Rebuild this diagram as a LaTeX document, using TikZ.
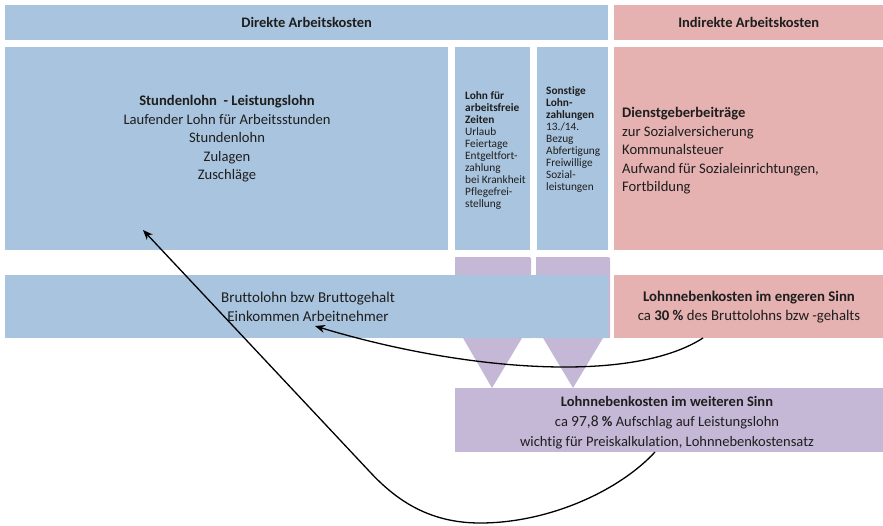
\documentclass[tikz,border=0pt]{standalone}
\usepackage{fontspec}
\setmainfont{Carlito}[Ligatures=NoCommon]
\usetikzlibrary{arrows.meta}
\definecolor{cblue}{RGB}{169,196,222}
\definecolor{cpink}{RGB}{229,177,177}
\definecolor{cpurple}{RGB}{196,184,214}
\definecolor{ctext}{RGB}{30,30,30}
\tikzset{
  box/.style={rectangle, inner sep=0pt, anchor=north west},
  bluebox/.style={box, fill=cblue},
  pinkbox/.style={box, fill=cpink},
  purplebox/.style={box, fill=cpurple},
  txt/.style={inner sep=0pt, text=ctext, align=center},
  main/.style={txt, font=\fontsize{14.6}{18.5}\selectfont},
  colsmall/.style={txt, align=left, anchor=west, font=\fontsize{11.3}{12}\selectfont},
  head/.style={txt, font=\bfseries\fontsize{14.5}{16}\selectfont},
  arr/.style={-{Stealth[length=10pt,width=8pt]}, line width=1.3pt, black}
}
\begin{document}
\begin{tikzpicture}[x=1pt,y=-1pt]
\useasboundingbox (0,0) rectangle (883,525);
% headers
\node[bluebox, minimum width=603pt, minimum height=35pt] (hd) at (5,5) {};
\node[pinkbox, minimum width=269pt, minimum height=35pt] (hi) at (614,5) {};
\node[head] (hdt) at (hd.center) {Direkte Arbeitskosten};
\node[head] (hit) at (hi.center) {Indirekte Arbeitskosten};
% upper boxes
\node[bluebox, minimum width=443pt, minimum height=203pt] (big) at (5,47) {};
\node[bluebox, minimum width=75pt, minimum height=203pt] (c1) at (455,47) {};
\node[bluebox, minimum width=71pt, minimum height=203pt] (c2) at (537,47) {};
\node[pinkbox, minimum width=269pt, minimum height=203pt] (dg) at (614,47) {};
\node[main] (bigt) at (227,139) {\textbf{Stundenlohn\ \ - Leistungslohn}\\Laufender Lohn für Arbeitsstunden\\Stundenlohn\\Zulagen\\Zuschläge};
\node[colsmall] (c1t) at (465,151) {\textbf{Lohn für}\\\textbf{arbeitsfreie}\\\textbf{Zeiten}\\Urlaub\\Feiertage\\Entgeltfort-\\zahlung\\bei Krankheit\\Pflegefrei-\\stellung};
\node[colsmall] (c2t) at (546,140) {\textbf{Sonstige}\\\textbf{Lohn-}\\\textbf{zahlungen}\\13./14.\\Bezug\\Abfertigung\\Freiwillige\\Sozial-\\leistungen};
\node[main, align=left, anchor=west] (dgt) at (622,151) {\textbf{Dienstgeberbeiträge}\\zur Sozialversicherung\\Kommunalsteuer\\Aufwand für Sozialeinrichtungen,\\Fortbildung};
% funnels
\fill[cpurple, rounded corners=1.5pt] (455,257) -- (531,257) -- (531,300) [sharp corners] -- (531,338) -- (522,338) -- (492,388) -- (463,338) -- (455,338) -- cycle;
\fill[cpurple, rounded corners=1.5pt] (536,257) -- (610,257) -- (610,300) [sharp corners] -- (610,338) -- (603,338) -- (573,388) -- (543,338) -- (536,338) -- cycle;
% middle row
\node[bluebox, minimum width=603pt, minimum height=63pt] (bl) at (5,275) {};
\node[pinkbox, minimum width=269pt, minimum height=63pt] (en) at (614,275) {};
\node[main, font=\fontsize{15}{19}\selectfont] (blt) at (308,307) {Bruttolohn bzw Bruttogehalt\\Einkommen Arbeitnehmer};
\node[main, font=\fontsize{14.8}{19}\selectfont] (ent) at (749,307) {\textbf{Lohnnebenkosten im engeren Sinn}\\ca \textbf{30 \%} des Bruttolohns bzw -gehalts};
% lower box
\node[purplebox, minimum width=428pt, minimum height=64pt] (ws) at (455,388) {};
\node[main, font=\fontsize{14.5}{20}\selectfont] (wst) at (667,423) {\textbf{Lohnnebenkosten im weiteren Sinn}\\ca {\fontsize{15.5}{20}\selectfont 97,8} \textbf{\%} Aufschlag auf Leistungslohn\\wichtig für Preiskalkulation, Lohnnebenkostensatz};
% arrows
\coordinate (a1s) at (655,452);
\coordinate (a1b) at (480,523);
\coordinate (a1m) at (370,472);
\coordinate (a1e) at (143,230);
\coordinate (a2s) at (703,338);
\coordinate (a2e) at (315,326);
\draw[arr] (a1s) .. controls (620,490) and (550,523) .. (a1b)
  .. controls (430,523) and (397,501) .. (a1m) -- (a1e);
\draw[arr] (a2s) .. controls (630,385) and (460,370) .. (a2e);
\end{tikzpicture}
\end{document}
